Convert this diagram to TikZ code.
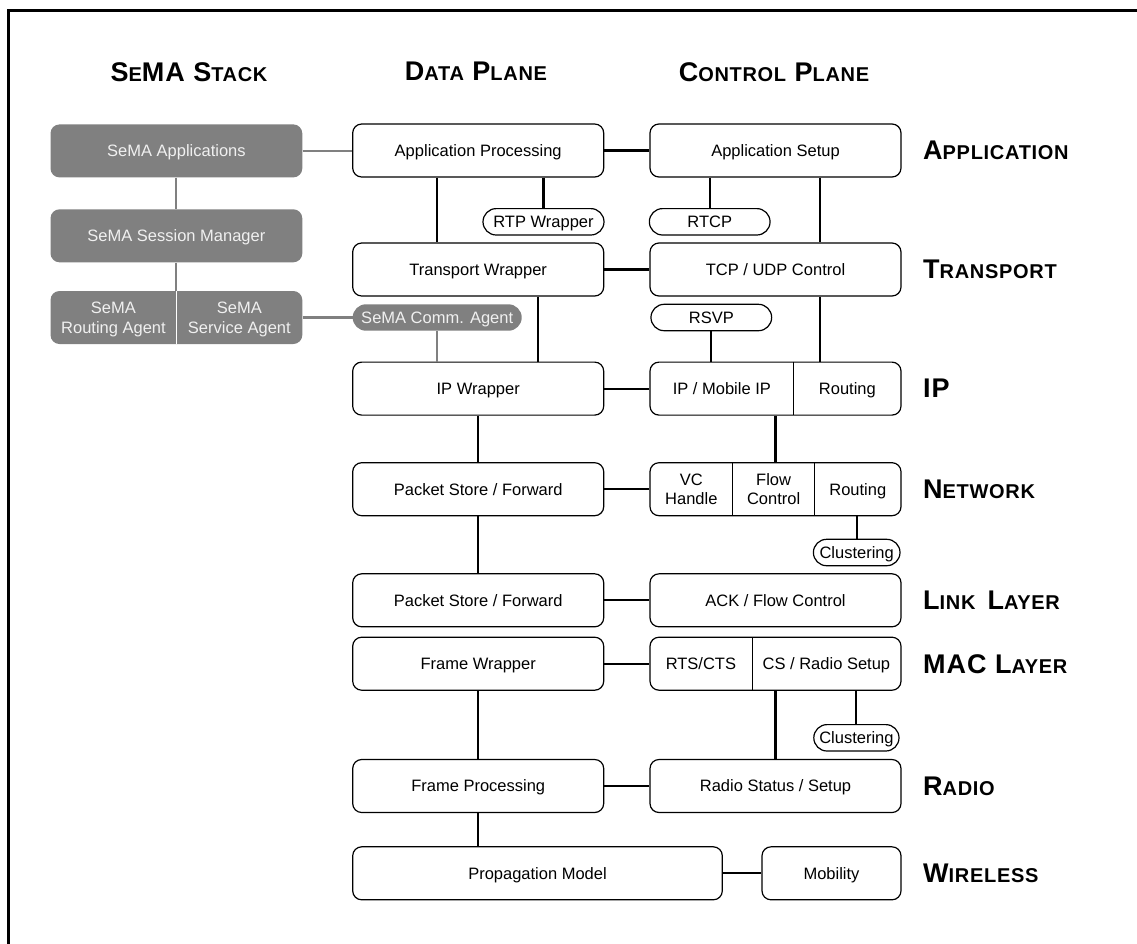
\documentclass[tikz,border=0pt]{standalone}
\usepackage{fontspec}
\setmainfont{Liberation Sans}
\newfontfamily\ttlfont[LetterSpace=3.5]{Liberation Sans}
\newcommand\TLbig[1]{{\fontsize{27}{27}\selectfont #1}}
\newcommand\TLsm[1]{{\fontsize{20}{20}\selectfont #1}}
\definecolor{semagray}{RGB}{128,128,128}
\newcommand\boxfont{\fontsize{16.5}{19.5}\selectfont}
\tikzset{
  bx/.style={draw=black, line width=1.2pt, rounded corners=9pt, minimum height=53pt,
    minimum width=251pt, inner sep=0pt, text depth=0pt, font=\boxfont, align=center},
  pillbx/.style={bx, rounded corners=13.2pt, minimum height=26.4pt},
  cell/.style={inner sep=0pt, text depth=0pt, font=\boxfont, align=center, minimum height=53pt},
  gbx/.style={fill=semagray, draw=none, rounded corners=9pt, minimum height=53pt,
    minimum width=251.8pt, inner sep=0pt, text depth=0pt, text=white!94!black,
    font=\boxfont, align=center},
  gcell/.style={cell, text=white!94!black},
  gpill/.style={gbx, rounded corners=13.2pt, minimum height=26.4pt},
  conn/.style={line width=2.1pt, draw=black},
  gconn/.style={line width=2.1pt, draw=semagray},
  divl/.style={line width=1pt, draw=black},
  ttl/.style={font=\ttlfont\bfseries\fontsize{27}{27}\selectfont, inner sep=0pt, text depth=0pt},
  lbl/.style={ttl, anchor=west}
}
\begin{document}
\begin{tikzpicture}[x=1pt,y=-1pt]
\useasboundingbox (0,0) rectangle (1137,943);
% frame
\draw[line width=3pt] (8.7,960) -- (8.7,10) -- (1150,10);

% titles
\node[ttl] (t1) at (189,71.7) {\TLbig{S}\TLsm{E}\TLbig{MA} \TLbig{S}\TLsm{TACK}};
\node[ttl] (t2) at (476,71.7) {\TLbig{D}\TLsm{ATA} \TLbig{P}\TLsm{LANE}};
\node[ttl] (t3) at (774,71.7) {\TLbig{C}\TLsm{ONTROL} \TLbig{P}\TLsm{LANE}};

% SeMA stack
\node[gbx] (sapp) at (176.4,150.9) {SeMA Applications};
\node[gbx] (ssm) at (176.4,235.8) {SeMA Session Manager};
\node[gbx] (sag) at (176.4,317.5) {};
\node[gcell, minimum width=125.9pt] (sra) at (113.45,317.5) {SeMA\\Routing Agent};
\node[gcell, minimum width=125.9pt] (ssa) at (239.35,317.5) {SeMA\\Service Agent};
\draw[line width=1pt, white] (sra.north east) -- (sra.south east);
\node[gpill, minimum width=169pt] (sca) at (437.2,317.5) {SeMA Comm. Agent};

% data plane
\node[bx] (ap) at (478.2,150.5) {Application Processing};
\node[bx] (tw) at (478.2,269.5) {Transport Wrapper};
\node[bx] (ipw) at (478.2,388.6) {IP Wrapper};
\node[bx] (np) at (478.2,489.2) {Packet Store / Forward};
\node[bx] (lp) at (478.2,600.3) {Packet Store / Forward};
\node[bx] (fw) at (478.2,663.7) {Frame Wrapper};
\node[bx] (fp) at (478.2,786) {Frame Processing};
\node[bx, minimum width=369.6pt] (pm) at (537.5,873.3) {Propagation Model};

% pills
\node[pillbx, minimum width=121pt] (rtp) at (543.5,221.8) {RTP Wrapper};
\node[pillbx, minimum width=120.7pt] (rtcp) at (709.7,221.8) {RTCP};
\node[pillbx, minimum width=120.7pt] (rsvp) at (711.3,317.5) {RSVP};
\node[pillbx, minimum width=86.6pt] (cl1) at (856.7,552.5) {Clustering};
\node[pillbx, minimum width=85.2pt] (cl2) at (856.4,737.8) {Clustering};

% control plane
\node[bx] (as) at (775.5,150.5) {Application Setup};
\node[bx] (tcp) at (775.5,269.5) {TCP / UDP Control};
\node[bx] (ipc) at (775.5,388.6) {};
\node[cell, minimum width=143.7pt] (ipm) at (721.85,388.6) {IP / Mobile IP};
\node[cell, minimum width=107.3pt] (irt) at (847.35,388.6) {Routing};
\draw[divl] (ipm.north east) -- (ipm.south east);
\node[bx] (nc) at (775.5,489.2) {};
\node[cell, minimum width=82.6pt] (vc) at (691.3,489.2) {VC\\Handle};
\node[cell, minimum width=82pt] (fc) at (773.6,489.2) {Flow\\Control};
\node[cell, minimum width=86.4pt] (nrt) at (857.8,489.2) {Routing};
\draw[divl] (vc.north east) -- (vc.south east);
\draw[divl] (fc.north east) -- (fc.south east);
\node[bx] (ack) at (775.5,600.3) {ACK / Flow Control};
\node[bx] (mc) at (775.5,663.7) {};
\node[cell, minimum width=101.8pt] (rts) at (700.9,663.7) {RTS/CTS};
\node[cell, minimum width=149.2pt] (cs) at (826.4,663.7) {CS / Radio Setup};
\draw[divl] (rts.north east) -- (rts.south east);
\node[bx] (rs) at (775.5,786) {Radio Status / Setup};
\node[bx, minimum width=139pt] (mob) at (831.5,873.3) {Mobility};

% right labels
\node[lbl] (lapp) at (923,150.5) {\TLbig{A}\TLsm{PPLICATION}};
\node[lbl] (ltr) at (923,269.5) {\TLbig{T}\TLsm{RANSPORT}};
\node[lbl] (lip) at (923,388.6) {\TLbig{IP}};
\node[lbl] (lnet) at (923,489.2) {\TLbig{N}\TLsm{ETWORK}};
\node[lbl] (llink) at (923,600.3) {\TLbig{L}\TLsm{INK}\hspace{12pt}\TLbig{L}\TLsm{AYER}};
\node[lbl] (lmac) at (923,663.7) {\TLbig{MAC} \TLbig{L}\TLsm{AYER}};
\node[lbl] (lrad) at (923,786) {\TLbig{R}\TLsm{ADIO}};
\node[lbl] (lwir) at (923,873.3) {\TLbig{W}\TLsm{IRELESS}};

% gray connectors
\draw[gconn] (sapp.south) -- (ssm.north);
\draw[gconn] (ssm.south) -- (sag.north);
\draw[gconn] (sapp.east) -- (sapp.east -| ap.west);
\draw[gconn] (sag.east) -- (sca.west);
\draw[gconn] (sca.south) -- (sca.south |- ipw.north);

% data plane connectors
\draw[conn] ([xshift=-41.2pt]ap.south) -- ([xshift=-41.2pt]tw.north);
\draw[conn] (ap.south -| rtp.north) -- (rtp.north);
\draw[conn] ([xshift=59.5pt]tw.south) -- ([xshift=59.5pt]ipw.north);
\draw[conn] (ipw.south) -- (np.north);
\draw[conn] (np.south) -- (lp.north);
\draw[conn] (fw.south) -- (fp.north);
\draw[conn] (fp.south) -- (fp.south |- pm.north);

% control plane connectors
\draw[conn] (as.south -| rtcp.north) -- (rtcp.north);
\draw[conn] ([xshift=44.5pt]as.south) -- ([xshift=44.5pt]tcp.north);
\draw[conn] ([xshift=44.5pt]tcp.south) -- ([xshift=44.5pt]ipc.north);
\draw[conn] (rsvp.south) -- (rsvp.south |- ipc.north);
\draw[conn] (ipc.south) -- (nc.north);
\draw[conn] (cl1.north |- nc.south) -- (cl1.north);
\draw[conn] (mc.south) -- (rs.north);
\draw[conn] (cl2.north |- mc.south) -- (cl2.north);

% horizontal connectors
\draw[conn] (ap.east) -- (as.west);
\draw[conn] (tw.east) -- (tcp.west);
\draw[conn] (ipw.east) -- (ipc.west);
\draw[conn] (np.east) -- (nc.west);
\draw[conn] (lp.east) -- (ack.west);
\draw[conn] (fw.east) -- (mc.west);
\draw[conn] (fp.east) -- (rs.west);
\draw[conn] (pm.east) -- (mob.west);
\end{tikzpicture}
\end{document}
